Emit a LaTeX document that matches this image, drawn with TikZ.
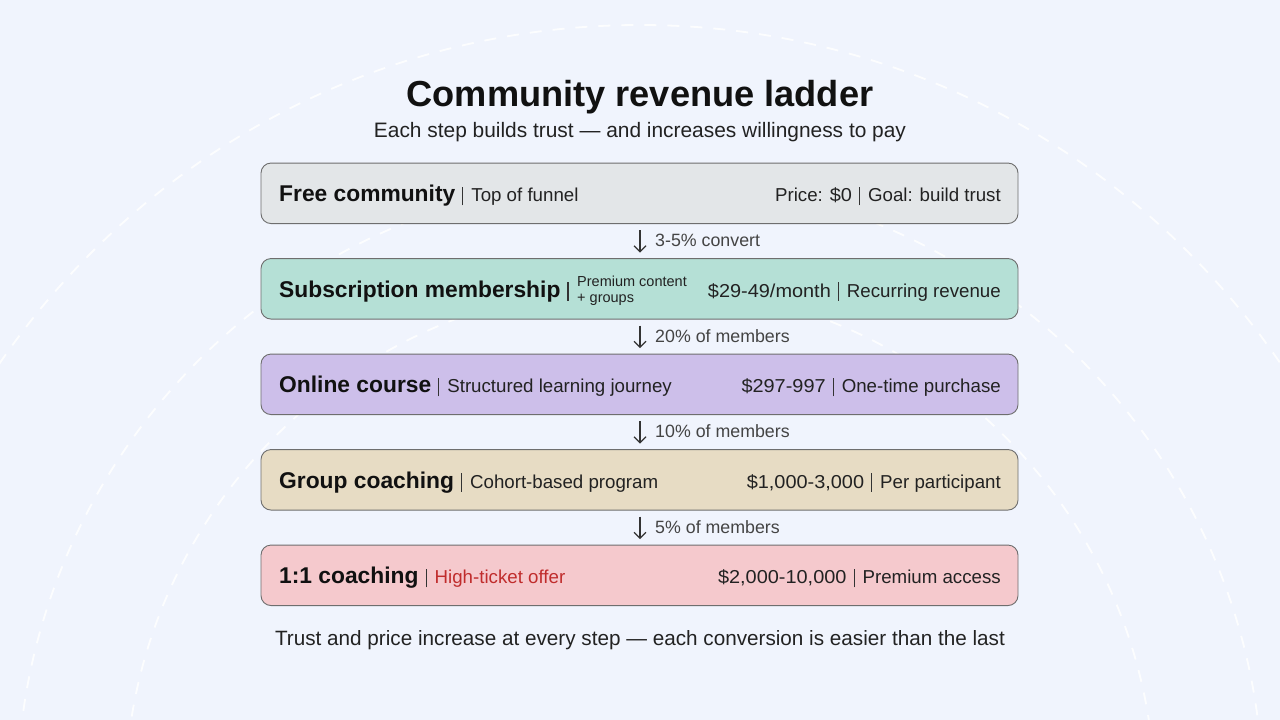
\documentclass[tikz,border=0pt]{standalone}
\usepackage{fontspec}
\usepackage{graphicx}
\setmainfont{Liberation Sans}
\usetikzlibrary{arrows.meta}
\definecolor{bgc}{HTML}{F0F4FD}
\definecolor{edgec}{HTML}{6E6E6E}
\definecolor{fillA}{HTML}{E3E6E8}
\definecolor{fillB}{HTML}{B5E0D6}
\definecolor{fillC}{HTML}{CDBFEA}
\definecolor{fillD}{HTML}{E7DCC4}
\definecolor{fillE}{HTML}{F5C9CD}
\definecolor{inkc}{HTML}{111111}
\definecolor{subc}{HTML}{222222}
\definecolor{labc}{HTML}{444444}
\definecolor{barc}{HTML}{333333}
\definecolor{redc}{RGB}{192,44,44}
\newcommand{\hdfont}{\fontsize{22.8pt}{27pt}\selectfont\bfseries}
\newcommand{\sbfont}{\fontsize{18.7pt}{22pt}\selectfont}
\newcommand{\sepbar}{\hspace{7pt}{\color{barc}\rule[-3.5pt]{1.1pt}{18.5pt}}\hspace{8pt}}
\newcommand{\wnum}[1]{\scalebox{1.065}[1]{#1}}
\tikzset{
  stepbox/.style={draw=edgec, line width=0.9pt, rounded corners=10pt, minimum width=757pt, minimum height=60.5pt, inner sep=0pt},
  lefttxt/.style={anchor=base west, inner sep=0pt, text=inkc},
  righttxt/.style={anchor=base east, inner sep=0pt, text=subc, font=\sbfont},
  conn/.style={draw=barc, line width=1.2pt, -{Straight Barb[length=6pt,width=12pt,line width=1.2pt]}, shorten <=6pt, shorten >=5.5pt},
  convlab/.style={anchor=base west, inner sep=0pt, text=labc, font=\fontsize{17.8pt}{20pt}\selectfont},
  ring/.style={draw=white, draw opacity=0.85, line width=1.8pt, dash pattern=on 12pt off 11pt}
}
\begin{document}
\begin{tikzpicture}[x=1pt,y=-1pt]
\useasboundingbox (0,0) rectangle (1280,720);
\fill[bgc] (0,0) rectangle (1280,720);
\begin{scope}
\clip (0,0) rectangle (1280,720);
\draw[ring] (640,800) circle (775);
\draw[ring] (640,800) circle (623);
\draw[ring] (640,800) circle (515);
\end{scope}

% title
\node[anchor=base, inner sep=0pt, text=inkc, font=\fontsize{36.2pt}{40pt}\selectfont\bfseries] (title) at (640,106.5) {Community revenue ladder};
\node[anchor=base, inner sep=0pt, text=subc, font=\fontsize{20.9pt}{24pt}\selectfont] (subtitle) at (640,137) {Each step builds trust — and increases willingness to pay};

% boxes
\node[stepbox, fill=fillA] (b1) at (639.5,193.3) {};
\node[stepbox, fill=fillB] (b2) at (639.5,288.8) {};
\node[stepbox, fill=fillC] (b3) at (639.5,384.3) {};
\node[stepbox, fill=fillD] (b4) at (639.5,479.8) {};
\node[stepbox, fill=fillE] (b5) at (639.5,575.3) {};

% box 1
\node[lefttxt] (l1) at (279,201.8) {{\hdfont Free community}\sepbar{\sbfont\color{subc}Top of funnel}};
\node[righttxt] (r1) at (1001,201.8) {Price: \wnum{\$0}\sepbar Goal: build trust};
% box 2
\node[lefttxt] (l2) at (279,297.3) {{\hdfont Subscription membership}\hspace{7pt}{\color{barc}\rule[-3.5pt]{1.1pt}{18.5pt}}};
\node[anchor=base west, inner sep=0pt, text=subc, font=\fontsize{14.5pt}{16pt}\selectfont] (l2a) at (577,286) {Premium content};
\node[anchor=base west, inner sep=0pt, text=subc, font=\fontsize{14.5pt}{16pt}\selectfont] (l2b) at (577,302) {+ groups};
\node[righttxt] (r2) at (1001,297.3) {\wnum{\$29-49/month}\sepbar Recurring revenue};
% box 3
\node[lefttxt] (l3) at (279,392.8) {{\hdfont Online course}\sepbar{\sbfont\color{subc}Structured learning journey}};
\node[righttxt] (r3) at (1001,392.8) {\wnum{\$297-997}\sepbar One-time purchase};
% box 4
\node[lefttxt] (l4) at (279,488.3) {{\hdfont Group coaching}\sepbar{\sbfont\color{subc}Cohort-based program}};
\node[righttxt] (r4) at (1001,488.3) {\wnum{\$1,000-3,000}\sepbar Per participant};
% box 5
\node[lefttxt] (l5) at (279,583.8) {{\hdfont 1:1 coaching}\sepbar{\sbfont\color{redc}High-ticket offer}};
\node[righttxt] (r5) at (1001,583.8) {\wnum{\$2,000-10,000}\sepbar Premium access};

% connectors
\coordinate (ax) at (640,0);
\draw[conn] (b1.south -| ax) -- (b2.north -| ax);
\draw[conn] (b2.south -| ax) -- (b3.north -| ax);
\draw[conn] (b3.south -| ax) -- (b4.north -| ax);
\draw[conn] (b4.south -| ax) -- (b5.north -| ax);
\node[convlab] (c1) at (655,246.7) {3-5\% convert};
\node[convlab] (c2) at (655,342.2) {20\% of members};
\node[convlab] (c3) at (655,437.7) {10\% of members};
\node[convlab] (c4) at (655,533.2) {5\% of members};

% footer
\node[anchor=base, inner sep=0pt, text=subc, font=\fontsize{20.7pt}{24pt}\selectfont] (foot) at (640,645) {Trust and price increase at every step — each conversion is easier than the last};
\end{tikzpicture}
\end{document}
